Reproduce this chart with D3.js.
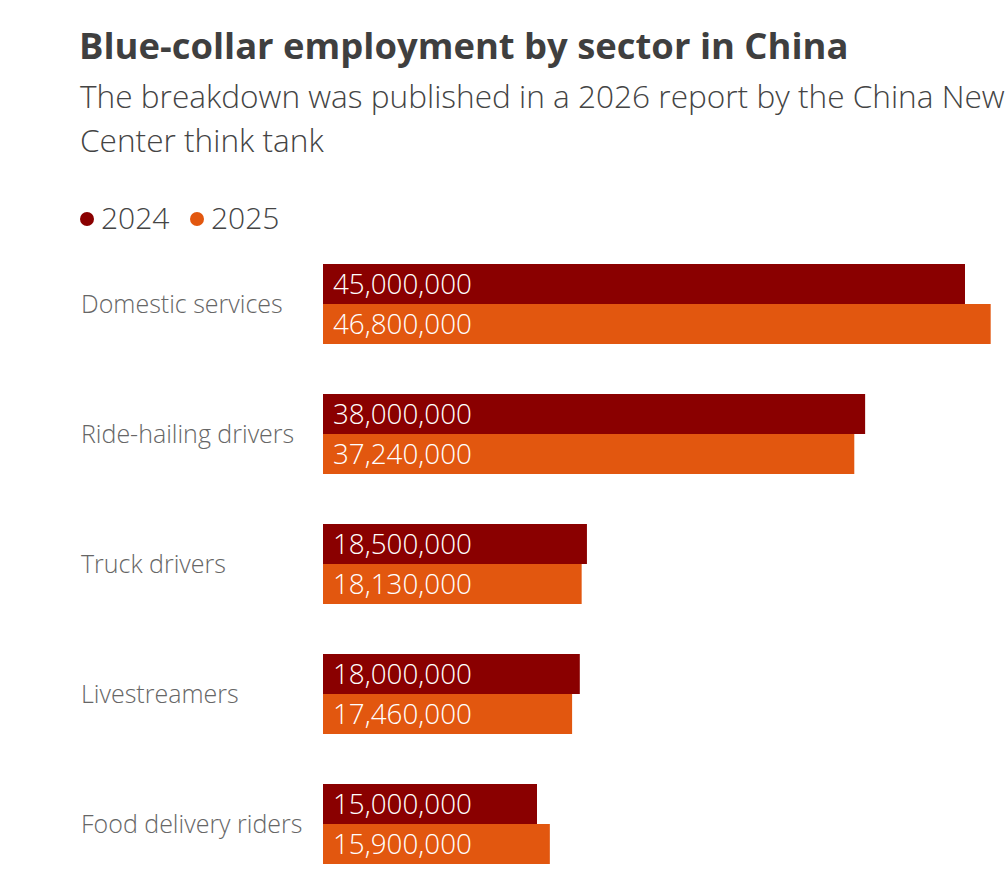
<!DOCTYPE html>
<html>
<head>
<meta charset="utf-8">
<script src="https://cdn.jsdelivr.net/npm/d3@7"></script>
<style>
  body { margin: 0; background: #fff; overflow: hidden; }
  svg { display: block; font-family: 'Open Sans', Lato, sans-serif; }
</style>
</head>
<body>
<script>
let categories = ['Domestic services', 'Ride-hailing drivers', 'Truck drivers', 'Livestreamers', 'Food delivery riders']
let years = ['2024', '2025']
let values2024 = [45000000, 38000000, 18500000, 18000000, 15000000]
let values2025 = [46800000, 37240000, 18130000, 17460000, 15900000]
let colors = ['#8a0000', '#e2570f']

let width = 1006
let height = 880
let x0 = 323

let dataset = categories.map((c, i) => ({ cat: c, vals: [values2024[i], values2025[i]] }))

let svg = d3.select('body')
  .append('svg')
  .attr('width', width)
  .attr('height', height)

// title + subtitle
svg.append('text')
  .attr('x', 79)
  .attr('y', 59)
  .attr('font-size', 36.4)
  .attr('font-weight', 'bold')
  .attr('fill', '#3f3f3f')
  .text('Blue-collar employment by sector in China')

// subtitle runs past the right edge, like the original
let subtitle = ['The breakdown was published in a 2026 report by the China New Employment Research', 'Center think tank']
svg.selectAll('.sub')
  .data(subtitle)
  .enter()
  .append('text')
  .attr('class', 'sub')
  .attr('x', 80)
  .attr('y', (d, i) => 108 + i * 44)
  .attr('font-size', 31.6)
  .attr('font-weight', 300)
  .attr('fill', '#444')
  .text(d => d)

// legend
let legend = svg.append('g')
let legendX = [87, 197]
years.forEach((y, i) => {
  legend.append('circle')
    .attr('cx', legendX[i])
    .attr('cy', 219)
    .attr('r', 7)
    .attr('fill', colors[i])
  legend.append('text')
    .attr('x', legendX[i] + 14)
    .attr('y', 229)
    .attr('font-size', 30)
    .attr('font-weight', 300)
    .attr('fill', '#444')
    .text(y)
})

let scaleX = d3.scaleLinear()
  .domain([0, 45000000])
  .range([x0, x0 + 642])

let scaleY = d3.scaleBand()
  .domain(categories)
  .range([239, 889])
  .paddingInner(50 / 130)
  .paddingOuter(25 / 130)

let scaleS = d3.scaleBand()
  .domain(years)
  .range([0, scaleY.bandwidth()])

let groups = svg.selectAll('.grp')
  .data(dataset)
  .enter()
  .append('g')
  .attr('class', 'grp')
  .attr('transform', d => 'translate(0,' + scaleY(d.cat) + ')')

groups.append('text')
  .attr('x', 81)
  .attr('y', scaleY.bandwidth() / 2)
  .attr('dy', '0.35em')
  .attr('font-size', 25)
  .attr('font-weight', 300)
  .attr('fill', '#666')
  .text(d => d.cat)

groups.selectAll('rect')
  .data(d => d.vals.map((v, i) => ({ v: v, year: years[i], i: i })))
  .enter()
  .append('rect')
  .attr('x', scaleX(0))
  .attr('y', d => scaleS(d.year))
  .attr('width', d => scaleX(d.v) - scaleX(0))
  .attr('height', scaleS.bandwidth())
  .attr('fill', d => colors[d.i])

let fmt = d3.format(',')
groups.selectAll('.val')
  .data(d => d.vals.map((v, i) => ({ v: v, year: years[i] })))
  .enter()
  .append('text')
  .attr('class', 'val')
  .attr('x', scaleX(0) + 10)
  .attr('y', d => scaleS(d.year) + scaleS.bandwidth() / 2)
  .attr('dy', '0.35em')
  .attr('font-size', 27.8)
  .attr('font-weight', 300)
  .attr('fill', '#fff')
  .text(d => fmt(d.v))
</script>
</body>
</html>
